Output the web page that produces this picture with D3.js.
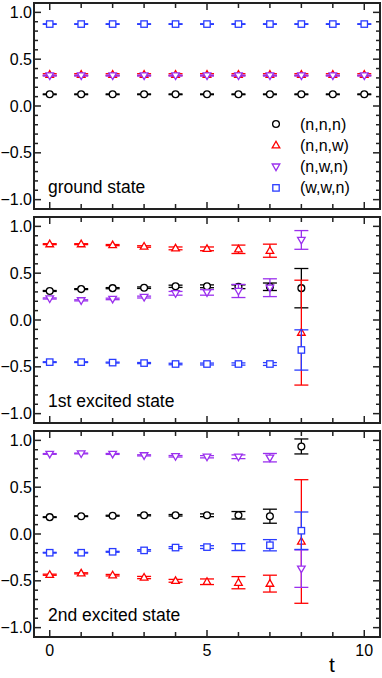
<!DOCTYPE html>
<html>
<head>
<meta charset="utf-8">
<script src="https://cdn.jsdelivr.net/npm/d3@7"></script>
<style>
  body { margin: 0; background: #fff; }
  text { font-family: "Liberation Sans", Arial, sans-serif; fill: #000; }
</style>
</head>
<body>
<div id="chart"></div>
<script>
// time slices
const tGround = [0, 1, 2, 3, 4, 5, 6, 7, 8, 9, 10];
const tExcited = [0, 1, 2, 3, 4, 5, 6, 7, 8];

const seriesNames = ["(n,n,n)", "(n,n,w)", "(n,w,n)", "(w,w,n)"];
const panelLabels = ["ground state", "1st excited state", "2nd excited state"];

// ground state
const g_nnn = [0.125, 0.125, 0.125, 0.125, 0.125, 0.125, 0.125, 0.125, 0.125, 0.125, 0.125];
const g_nnn_err = [0.004, 0.004, 0.004, 0.004, 0.004, 0.004, 0.004, 0.004, 0.004, 0.004, 0.004];
const g_nnw = [0.335, 0.335, 0.335, 0.335, 0.335, 0.335, 0.335, 0.335, 0.335, 0.335, 0.335];
const g_nnw_err = [0.01, 0.01, 0.01, 0.01, 0.01, 0.01, 0.01, 0.01, 0.01, 0.01, 0.01];
const g_nwn = [0.325, 0.325, 0.325, 0.325, 0.325, 0.325, 0.325, 0.325, 0.325, 0.325, 0.325];
const g_nwn_err = [0.005, 0.005, 0.005, 0.005, 0.005, 0.005, 0.005, 0.005, 0.005, 0.005, 0.005];
const g_wwn = [0.875, 0.875, 0.875, 0.875, 0.875, 0.875, 0.875, 0.875, 0.875, 0.875, 0.875];
const g_wwn_err = [0.003, 0.003, 0.003, 0.003, 0.003, 0.003, 0.003, 0.003, 0.003, 0.003, 0.003];

// 1st excited state
const e1_nnn = [0.31, 0.33, 0.34, 0.345, 0.36, 0.36, 0.355, 0.355, 0.34];
const e1_nnn_err = [0.005, 0.005, 0.006, 0.008, 0.012, 0.015, 0.02, 0.04, 0.21];
const e1_nnw = [0.81, 0.81, 0.80, 0.785, 0.765, 0.76, 0.755, 0.74, -0.135];
const e1_nnw_err = [0.005, 0.005, 0.006, 0.008, 0.015, 0.02, 0.045, 0.07, 0.56];
const e1_nwn = [0.23, 0.21, 0.225, 0.245, 0.285, 0.295, 0.31, 0.345, 0.855];
const e1_nwn_err = [0.006, 0.006, 0.008, 0.01, 0.02, 0.03, 0.07, 0.095, 0.10];
const e1_wwn = [-0.45, -0.45, -0.455, -0.46, -0.47, -0.47, -0.47, -0.47, -0.32];
const e1_wwn_err = [0.004, 0.004, 0.005, 0.006, 0.008, 0.01, 0.012, 0.015, 0.215];

// 2nd excited state
const e2_nnn = [0.18, 0.19, 0.195, 0.2, 0.2, 0.2, 0.2, 0.19, 0.935];
const e2_nnn_err = [0.004, 0.004, 0.005, 0.006, 0.008, 0.015, 0.04, 0.075, 0.08];
const e2_nnw = [-0.435, -0.42, -0.44, -0.465, -0.5, -0.51, -0.52, -0.53, -0.08];
const e2_nnw_err = [0.006, 0.006, 0.008, 0.012, 0.015, 0.03, 0.065, 0.09, 0.66];
const e2_nwn = [0.855, 0.86, 0.855, 0.84, 0.83, 0.825, 0.825, 0.815, -0.37];
const e2_nwn_err = [0.004, 0.004, 0.005, 0.006, 0.008, 0.012, 0.02, 0.045, 0.2];
const e2_wwn = [-0.2, -0.2, -0.19, -0.175, -0.145, -0.14, -0.14, -0.12, 0.035];
const e2_wwn_err = [0.004, 0.004, 0.005, 0.008, 0.01, 0.015, 0.037, 0.06, 0.2];

const xTicks = [0, 5, 10];
const yTicks = [-1.0, -0.5, 0.0, 0.5, 1.0];

const colors = ["#000000", "#ff0000", "#9b30ee", "#2a3cff"];
const shapes = ["circle", "up", "down", "square"];

const panels = [
  { t: tGround, ys: [g_nnn, g_nnw, g_nwn, g_wwn], es: [g_nnn_err, g_nnw_err, g_nwn_err, g_wwn_err] },
  { t: tExcited, ys: [e1_nnn, e1_nnw, e1_nwn, e1_wwn], es: [e1_nnn_err, e1_nnw_err, e1_nwn_err, e1_wwn_err] },
  { t: tExcited, ys: [e2_nnn, e2_nnw, e2_nwn, e2_wwn], es: [e2_nnn_err, e2_nnw_err, e2_nwn_err, e2_wwn_err] }
];

const W = 382, H = 678;
const left = 34, right = 380;
const panelTops = [3, 217, 431];
const panelH = 206;

const svg = d3.select("#chart").append("svg")
  .attr("width", W).attr("height", H);

const x = d3.scaleLinear().domain([-0.5, 10.5]).range([left, right]);

function marker(sel, shape, color) {
  if (shape === "circle") {
    sel.append("circle").attr("r", 3.4);
  } else if (shape === "square") {
    sel.append("rect").attr("x", -3.2).attr("y", -3.2).attr("width", 6.4).attr("height", 6.4);
  } else if (shape === "up") {
    sel.append("path").attr("d", "M0,-4L3.8,2.6L-3.8,2.6Z");
  } else {
    sel.append("path").attr("d", "M0,4L3.8,-2.6L-3.8,-2.6Z");
  }
  sel.selectAll("circle,rect,path")
    .attr("fill", "#fff").attr("stroke", color).attr("stroke-width", 1.3);
}

panels.forEach((p, pi) => {
  const top = panelTops[pi];
  const y = d3.scaleLinear().domain([-1.1, 1.1]).range([top + panelH, top]);
  const g = svg.append("g");

  // ticks (inside, on all four sides)
  const ticksG = g.append("g").attr("stroke", "#222").attr("stroke-width", 1.5);
  d3.range(-11, 12).forEach(i => {
    const v = i / 10;
    if (Math.abs(v) > 1.05) return;
    const major = i % 5 === 0;
    const len = major ? 7 : 4;
    ticksG.append("line").attr("x1", left).attr("x2", left + len).attr("y1", y(v)).attr("y2", y(v));
    ticksG.append("line").attr("x1", right).attr("x2", right - len).attr("y1", y(v)).attr("y2", y(v));
  });
  d3.range(0, 11).forEach(t => {
    const len = t % 5 === 0 ? 7 : 5;
    ticksG.append("line").attr("x1", x(t)).attr("x2", x(t)).attr("y1", top).attr("y2", top + len);
    ticksG.append("line").attr("x1", x(t)).attr("x2", x(t)).attr("y1", top + panelH).attr("y2", top + panelH - len);
  });

  g.append("rect")
    .attr("x", left).attr("y", top).attr("width", right - left).attr("height", panelH)
    .attr("fill", "none").attr("stroke", "#222").attr("stroke-width", 2);

  // y labels
  g.selectAll(".ylab").data(yTicks).join("text")
    .attr("x", left - 2).attr("y", d => y(d) + 5.5)
    .attr("text-anchor", "end").attr("font-size", 16)
    .text(d => d3.format(".1f")(d));

  // series
  p.ys.forEach((vals, si) => {
    const col = colors[si];
    const sg = g.append("g");
    p.t.forEach((t, i) => {
      const cx = x(t), v = vals[i], e = p.es[si][i];
      const bar = sg.append("g").attr("stroke", col).attr("stroke-width", 1.3);
      bar.append("line").attr("x1", cx).attr("x2", cx).attr("y1", y(v + e)).attr("y2", y(v - e));
      bar.append("line").attr("x1", cx - 7).attr("x2", cx + 7).attr("y1", y(v + e)).attr("y2", y(v + e));
      bar.append("line").attr("x1", cx - 7).attr("x2", cx + 7).attr("y1", y(v - e)).attr("y2", y(v - e));
    });
    p.t.forEach((t, i) => {
      const m = sg.append("g").attr("transform", `translate(${x(t)},${y(vals[i])})`);
      marker(m, shapes[si], col);
    });
  });

  g.append("text")
    .attr("x", 48).attr("y", top + 190)
    .attr("font-size", 17.5)
    .text(panelLabels[pi]);
});

// legend
seriesNames.forEach((name, i) => {
  const ly = 124 + i * 21.3;
  const m = svg.append("g").attr("transform", `translate(276,${ly})`);
  marker(m, shapes[i], colors[i]);
  svg.append("text").attr("x", 300).attr("y", ly + 5.5)
    .attr("font-size", 16).text(name);
});

// x labels
const bottom = panelTops[2] + panelH;
svg.selectAll(".xlab").data(xTicks).join("text")
  .attr("x", d => x(d)).attr("y", bottom + 19)
  .attr("text-anchor", "middle").attr("font-size", 16)
  .text(d => d);

svg.append("text")
  .attr("x", 332).attr("y", 672)
  .attr("text-anchor", "middle").attr("font-size", 21)
  .text("t");
</script>
</body>
</html>
